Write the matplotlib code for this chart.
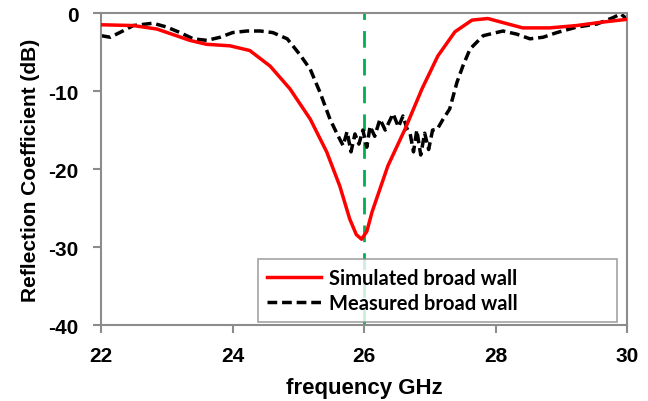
import numpy as np
import matplotlib
matplotlib.use("Agg")
import matplotlib.pyplot as plt

# simulated broad wall (red)
sim_f = [22.0, 22.49, 22.85, 23.35, 23.6, 23.96, 24.26, 24.57, 24.87, 25.18,
         25.43, 25.63, 25.78, 25.88, 25.96, 26.04, 26.12, 26.36, 26.62, 26.88,
         27.12, 27.38, 27.64, 27.88, 28.1, 28.41, 28.82, 29.23, 29.58, 30.0]
sim_db = [-1.5, -1.6, -2.05, -3.5, -4.0, -4.2, -4.8, -6.8, -9.7, -13.6,
          -17.8, -22.2, -26.4, -28.4, -29.0, -28.0, -25.5, -19.6, -14.9, -9.7,
          -5.5, -2.4, -0.9, -0.7, -1.2, -1.9, -1.9, -1.6, -1.2, -0.8]

# measured broad wall (black dashed)
meas_f = [22.0, 22.14, 22.33, 22.49, 22.79, 23.0, 23.2, 23.4, 23.61, 23.81,
          24.0, 24.22, 24.42, 24.61, 24.83, 25.02, 25.18, 25.33, 25.48, 25.6,
          25.68, 25.74, 25.8, 25.86, 25.92, 25.98, 26.04, 26.09, 26.16, 26.24,
          26.32, 26.44, 26.52, 26.59, 26.65, 26.70, 26.75, 26.80, 26.86, 26.92,
          26.98, 27.04, 27.11, 27.2, 27.3, 27.41, 27.5, 27.61, 27.81, 28.11,
          28.32, 28.52, 28.72, 28.93, 29.23, 29.54, 29.78, 29.9, 30.0]
meas_db = [-2.9, -3.1, -2.3, -1.6, -1.3, -1.8, -2.5, -3.3, -3.5, -3.1,
           -2.5, -2.3, -2.3, -2.5, -3.3, -5.3, -7.2, -10.2, -13.6, -15.7,
           -17.0, -15.2, -17.8, -15.5, -16.8, -15.0, -17.2, -14.5, -15.8, -13.6,
           -15.0, -12.9, -14.6, -13.2, -14.8, -15.5, -17.8, -15.0, -18.2, -15.4,
           -17.5, -15.0, -14.9, -13.6, -12.3, -8.9, -6.8, -4.6, -2.9, -2.3,
           -2.7, -3.3, -3.1, -2.5, -1.8, -1.4, -0.6, -0.1, -0.8]

f0 = 26.0
xticks = [22, 24, 26, 28, 30]
yticks = [-40, -30, -20, -10, 0]

plt.rcParams["font.family"] = ["Liberation Sans", "DejaVu Sans"]
plt.rcParams["font.weight"] = "bold"
plt.rcParams["axes.unicode_minus"] = False

fig = plt.figure(figsize=(6.48, 4.02), dpi=100)
ax = fig.add_axes([0.156, 0.189, 0.812, 0.776])

ax.axvline(f0, color="#00b050", lw=2, dashes=(6, 4), zorder=1)
ax.plot(sim_f, sim_db, color="#ff0000", lw=2.5, label="Simulated broad wall", zorder=3)
ax.plot(meas_f, meas_db, color="black", lw=2.5, dashes=(2.8, 1.4),
        label="Measured broad wall", zorder=2)

ax.set_xlim(22, 30)
ax.set_ylim(-40, 0)
ax.set_xticks(xticks)
ax.set_yticks(yticks)
for s in ax.spines.values():
    s.set_color("#8c8c8c")
    s.set_linewidth(1.5)
ax.tick_params(colors="#8c8c8c", width=1.5, length=6, labelcolor="black",
               labelsize=15)
ax.tick_params(axis="x", pad=9)
ax.tick_params(axis="y", pad=10)
for lab in ax.get_xticklabels() + ax.get_yticklabels():
    lab.set_fontweight("bold")

ax.set_xlabel("frequency GHz", fontsize=16, fontweight="bold", labelpad=9)
ax.set_ylabel("Reflection Coefficient (dB)", fontsize=15, fontweight="bold",
              labelpad=6)

leg = ax.legend(loc="lower left", bbox_to_anchor=(0.298, 0.01, 0.683, 0.211),
                mode="expand", frameon=True, fancybox=False, borderaxespad=0,
                prop={"family": "Lato", "weight": "bold", "size": 14.5},
                handlelength=2.7, handletextpad=0.4, borderpad=0.45,
                labelspacing=0.25)
leg.get_frame().set_edgecolor("#8c8c8c")
leg.get_frame().set_linewidth(1.2)

fig.savefig("out.png", dpi=100)
